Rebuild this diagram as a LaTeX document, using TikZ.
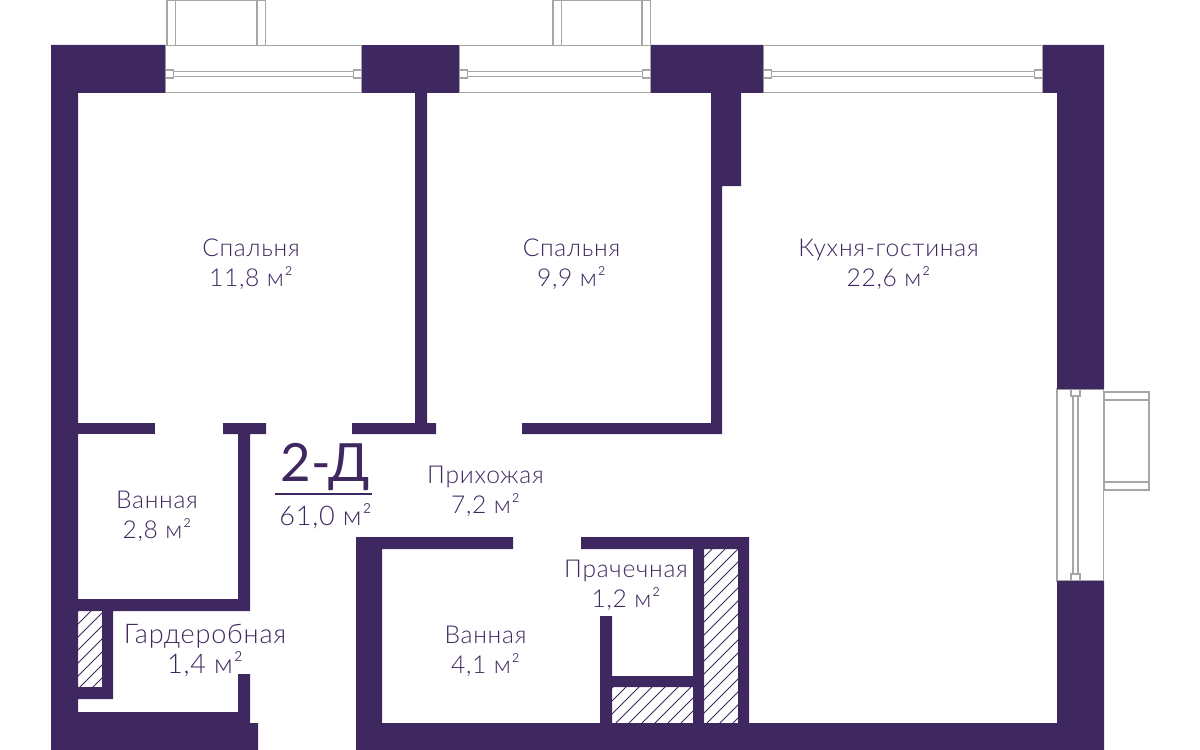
\documentclass[tikz,border=0pt]{standalone}
\usepackage{fontspec}
\setmainfont[LetterSpace=3]{Lato Light}
\newfontfamily\titlefont{Lato}
\definecolor{plum}{HTML}{3F2760}
\definecolor{frameg}{HTML}{A6A6A6}
\tikzset{every node/.style={align=center}, x=0.02cm, y=-0.02cm,
  wall/.style={fill=plum, draw=none},
  glass/.style={draw=frameg, line width=0.8pt, fill=white},
  hatchline/.style={draw=plum, line width=0.55pt},
  room/.style={text=plum, font=\fontsize{14}{17}\selectfont, inner sep=0pt},
  bigroom/.style={room, font=\fontsize{15.4}{17}\selectfont},
  title/.style={text=plum, font=\titlefont\fontsize{30}{30}\selectfont, inner sep=0pt}}

\begin{document}
\begin{tikzpicture}
    \useasboundingbox (0,0) rectangle (1200,750);
    % windows on top
    \foreach \a/\b in {165/362, 459/651, 763/1043} {
        \draw[glass] (\a,45.5) rectangle (\b,92.5);
        \draw[glass] (\a+8,71.5) rectangle (\b-8,76.5);
        \draw[glass] (\a,70) rectangle (\a+8.5,78);
        \draw[glass] (\b-8.5,70) rectangle (\b,78);
    }
    % balconies on top
    \foreach \a/\b in {167/265.5, 553/650.5} {
        \draw[glass] (\a,0.5) rectangle (\b,45.5);
        \draw[glass] (\a,0.5) rectangle (\a+8.5,45.5);
        \draw[glass] (\b-8.5,0.5) rectangle (\b,45.5);
    }
    % window on the right
    \draw[glass] (1057,389) rectangle (1103.5,581);
    \draw[glass] (1073,395) rectangle (1078,575);
    \draw[glass] (1071,389) rectangle (1080,396);
    \draw[glass] (1071,574) rectangle (1080,581);
    \draw[glass] (1104,392) rectangle (1149,490);
    \draw[glass] (1104,392) rectangle (1149,400);
    \draw[glass] (1104,482) rectangle (1149,490);
    % hatching
    \foreach \a/\c/\b/\d in {77/611/102/687, 704/549/738/723, 612/687/693/723} {
        \begin{scope}
            \clip (\a,\c) rectangle (\b,\d);
            \foreach \s in {0,13,...,1560}
                \draw[hatchline] (\s,0) -- (\s-800,800);
        \end{scope}
    }
    % walls
    \fill[wall] (51,45) -- (165,45) -- (165,93) -- (78,93) -- (78,712) -- (238,712)
        -- (238,674) -- (250,674) -- (250,723) -- (258,723) -- (258,750) -- (51,750) -- cycle;
    \fill[wall] (362,45) rectangle (459,93);
    \fill[wall] (651,45) -- (763,45) -- (763,93) -- (741,93) -- (741,186) -- (722,186)
        -- (722,434) -- (522,434) -- (522,423) -- (711,423) -- (711,93) -- (651,93) -- cycle;
    \fill[wall] (1043,45) -- (1104,45) -- (1104,389) -- (1057,389) -- (1057,93) -- (1043,93) -- cycle;
    \fill[wall] (1057,581) -- (1104,581) -- (1104,750) -- (356,750) -- (356,537) -- (513,537)
        -- (513,549) -- (382,549) -- (382,723) -- (1057,723) -- cycle;
    \fill[wall] (415,93) -- (427,93) -- (427,423) -- (436,423) -- (436,434) -- (352,434)
        -- (352,423) -- (415,423) -- cycle;
    \fill[wall] (78,423) rectangle (155,434);
    \fill[wall] (223,423) -- (266,423) -- (266,434) -- (250,434) -- (250,611) -- (113,611)
        -- (113,699) -- (78,699) -- (78,687) -- (102,687) -- (102,611) -- (78,611) -- (78,599)
        -- (238,599) -- (238,434) -- (223,434) -- cycle;
    \fill[wall] (581,537) -- (749,537) -- (749,723) -- (738,723) -- (738,549) -- (704,549)
        -- (704,723) -- (693,723) -- (693,687) -- (612,687) -- (612,723) -- (600,723) -- (600,616)
        -- (612,616) -- (612,676) -- (693,676) -- (693,549) -- (581,549) -- cycle;
    % plan title
    \node[title] (planname) at (325.5,467) {2-Д};
    \coordinate (rulea) at (275,494);
    \coordinate (ruleb) at (372,494);
    \draw[plum, line width=1pt] (rulea) -- (ruleb);
    \node[bigroom] (planarea) at (325.5,516.5) {61,0 м²};
    % rooms
    \node[room] (bed1) at (251,264) {Спальня\\11,8 м²};
    \node[room] (bed2) at (571.5,264) {Спальня\\9,9 м²};
    \node[room] (living) at (888.5,264) {Кухня-гостиная\\22,6 м²};
    \node[room] (hall) at (485.5,491) {Прихожая\\7,2 м²};
    \node[room] (bath1) at (157,516) {Ванная\\2,8 м²};
    \node[room] (laundry) at (626,585) {Прачечная\\1,2 м²};
    \node[room] (bath2) at (485.5,651) {Ванная\\4,1 м²};
    \node[bigroom] (wardrobe) at (205,651) {Гардеробная\\1,4 м²};
\end{tikzpicture}
\end{document}
